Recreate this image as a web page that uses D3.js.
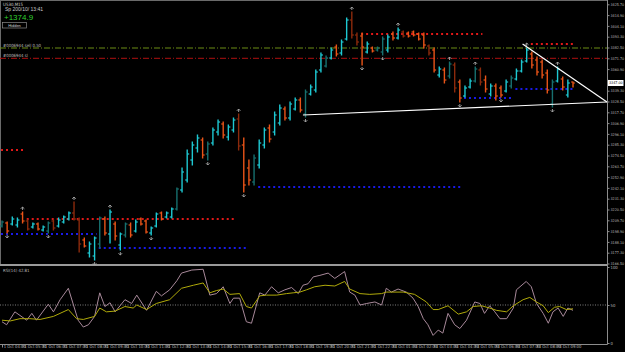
<!DOCTYPE html>
<html>
<head>
<meta charset="utf-8">
<script src="https://cdn.jsdelivr.net/npm/d3@7"></script>
<style>
  body { margin: 0; background: #000; }
  svg { display: block; font-family: "Liberation Sans", Arial, sans-serif; }
</style>
</head>
<body>
<div id="chart"></div>
<script>
// bars: [open, high, low, close, colour code]
const bars = [
  [3204,3209,3203,3208,'t'],[3207,3208,3197,3199,'o'],[3206,3213,3205,3211,'c'],[3205,3212,3203,3210,'c'],
  [3216,3218,3207,3209,'o'],[3209,3210,3200,3201,'r'],[3203,3207,3202,3206,'c'],[3206,3207,3200,3201,'o'],
  [3200,3204,3199,3203,'c'],[3199,3208,3197,3207,'t'],[3209,3210,3200,3202,'r'],[3204,3212,3203,3210,'c'],
  [3208,3214,3207,3213,'c'],[3211,3218,3210,3217,'c'],[3217,3228,3210,3211,'r'],[3210,3212,3178,3186,'r'],
  [3190,3192,3183,3184,'o'],[3177,3188,3173,3186,'c'],[3174,3193,3170,3192,'c'],[3186,3213,3182,3212,'t'],
  [3211,3213,3195,3197,'o'],[3196,3220,3187,3218,'c'],[3206,3208,3190,3194,'o'],[3185,3197,3180,3196,'c'],
  [3195,3207,3193,3206,'t'],[3205,3207,3193,3195,'o'],[3199,3210,3198,3208,'c'],[3211,3212,3205,3206,'o'],
  [3209,3210,3197,3198,'o'],[3197,3203,3195,3202,'c'],[3204,3217,3203,3216,'c'],[3217,3218,3210,3211,'o'],
  [3213,3218,3212,3217,'c'],[3213,3222,3212,3221,'c'],[3221,3242,3220,3241,'t'],[3240,3262,3238,3258,'c'],
  [3250,3280,3248,3276,'c'],[3270,3288,3265,3285,'c'],[3282,3295,3278,3292,'c'],[3290,3292,3272,3275,'o'],
  [3276,3288,3270,3286,'t'],[3287,3302,3285,3300,'c'],[3298,3310,3295,3308,'c'],[3306,3308,3292,3295,'o'],
  [3293,3305,3290,3303,'c'],[3300,3312,3298,3310,'c'],[3311,3316,3280,3284,'r'],[3285,3292,3238,3245,'o'],
  [3262,3270,3245,3250,'o'],[3248,3275,3245,3272,'t'],[3265,3290,3262,3287,'c'],[3285,3302,3282,3300,'c'],
  [3302,3305,3288,3291,'o'],[3298,3318,3295,3315,'c'],[3307,3325,3305,3322,'c'],[3321,3323,3310,3312,'o'],
  [3312,3328,3310,3326,'c'],[3321,3332,3320,3330,'c'],[3330,3332,3318,3320,'o'],[3316,3340,3313,3338,'t'],
  [3336,3345,3335,3343,'c'],[3340,3360,3338,3358,'c'],[3360,3377,3358,3375,'c'],[3364,3374,3363,3372,'t'],
  [3372,3382,3371,3380,'c'],[3383,3385,3374,3376,'o'],[3377,3390,3375,3388,'c'],[3391,3412,3390,3410,'c'],
  [3410,3418,3392,3395,'r'],[3395,3397,3385,3388,'r'],[3394,3397,3365,3383,'o'],[3378,3388,3377,3386,'c'],
  [3382,3383,3378,3379,'o'],[3380,3383,3379,3382,'t'],[3378,3393,3375,3391,'t'],[3380,3395,3378,3393,'c'],
  [3396,3398,3390,3392,'o'],[3392,3402,3391,3400,'c'],[3398,3399,3393,3394,'r'],[3397,3398,3393,3394,'o'],
  [3398,3399,3394,3395,'o'],[3396,3397,3390,3391,'o'],[3395,3397,3382,3385,'o'],[3384,3385,3375,3377,'r'],
  [3380,3382,3358,3360,'o'],[3355,3363,3353,3361,'c'],[3360,3362,3347,3350,'o'],[3354,3368,3352,3366,'t'],
  [3365,3367,3338,3342,'r'],[3348,3350,3328,3332,'o'],[3334,3344,3333,3342,'c'],[3343,3351,3342,3349,'c'],
  [3349,3363,3348,3361,'t'],[3360,3362,3345,3348,'r'],[3350,3354,3338,3341,'o'],[3336,3346,3334,3344,'c'],
  [3344,3346,3330,3334,'o'],[3342,3344,3333,3335,'o'],[3339,3350,3338,3348,'c'],[3344,3354,3342,3352,'t'],
  [3351,3361,3350,3359,'c'],[3359,3370,3358,3368,'c'],[3369,3382,3368,3380,'c'],[3376,3378,3362,3365,'o'],
  [3370,3373,3355,3358,'o'],[3368,3370,3352,3355,'o'],[3357,3360,3337,3340,'o'],[3326,3350,3323,3348,'t'],
  [3349,3363,3348,3361,'c'],[3351,3353,3340,3343,'o'],[3335,3350,3333,3347,'c'],[3348,3348,3343,3347,'o']
];

// fractal arrows (bar indices)
const fractalUp = [4, 14, 21, 46, 68, 77, 87, 92, 102, 108];
const fractalDown = [1, 9, 18, 23, 29, 40, 47, 59, 70, 74, 89, 97, 107];

// dotted support / resistance: [price, fromBar, toBar, kind]
const levels = [
  [3280, 0, 4, 'r'], [3211, 5, 45, 'r'], [3396, 70, 93, 'r'], [3386, 103, 111, 'r'],
  [3196, 0, 18, 'b'], [3182, 19, 47, 'b'], [3243, 50, 89, 'b'], [3332, 90, 99, 'b'], [3341, 100, 111, 'b']
];

// trend lines: [[bar, price], [bar, price]]
const trendLines = [
  [[58.5, 3315], [117.6, 3328]],
  [[101.2, 3386], [117.6, 3328]]
];

// order lines
const orderLines = [
  { label: '#0006944 sell 0.50', price: 3382, color: '#6b8c14' },
  { label: '#0006944 sl', price: 3371.7, color: '#b01010' }
];

// oscillator: [bar position, value]
const oscFast = [
  [0,28],[0.9,24],[2.5,41],[4.8,30],[5.8,39],[6.7,30],[9,51],[10,41],[11.3,57],[12.9,72],[14.8,30],
  [15.8,21],[16.8,24],[18,35],[19,66],[20,48],[21,53],[22,41],[23.9,57],[25.2,52],[26.2,63],[28.1,43],
  [30,68],[31,62],[32.6,70],[34,82],[34.9,92],[36.9,96],[39.1,97],[40.4,63],[41.7,65],[43,74],[44.3,52],
  [45,59],[46.2,59],[47.5,28],[48.5,26],[50.1,66],[51.1,63],[52.4,74],[53.7,66],[55,70],[56.3,73],
  [57.6,65],[58.5,76],[59.5,78],[60.5,87],[61.8,89],[63.4,92],[64.7,85],[66.6,94],[67.6,67],[68.6,63],
  [69.6,50],[70.9,52],[72.5,54],[73.8,50],[74.7,72],[75.7,67],[77,71],[78.6,67],[79.9,59],[80.9,48],
  [81.9,32],[82.8,24],[83.8,10],[84.8,17],[85.7,13],[86.7,39],[88,24],[89,19],[90.3,30],[91.9,54],
  [92.9,52],[93.8,39],[94.8,49],[95.8,41],[96.8,32],[98.1,32],[99.4,46],[100,70],[101.9,81],[102.9,74],
  [103.9,52],[105.2,39],[106.2,26],[107.1,41],[108.1,46],[109.1,35],[110,46],[111,43]
];
const oscSlow = [
  [0,30],[1.6,29],[3.5,32],[5.4,32],[7.4,31],[10,35],[12.9,44],[14.5,32],[15.8,31],[18,35],[19,46],
  [20.3,41],[22,42],[23.9,48],[25.5,46],[26.2,50],[28.1,44],[30,52],[32.6,57],[34.9,72],[37.2,76],
  [39.1,79],[40.4,66],[41.7,69],[43,71],[44.3,64],[46.2,65],[47.5,48],[48.5,46],[50.1,62],[51.4,63],
  [53.4,63],[55.3,65],[56.6,66],[57.9,67],[59.2,70],[60.8,74],[62.8,76],[64.7,75],[66.6,81],[67.6,71],
  [69.6,65],[71.5,64],[73.8,65],[74.7,67],[76,67],[78,67],[80.2,64],[82.5,54],[83.8,44],[84.8,44],
  [86.7,49],[88.7,38],[90.3,41],[91.6,48],[93.2,49],[94.8,46],[96.1,43],[98.1,41],[99.4,49],[101.3,57],
  [102.6,60],[103.9,54],[105.2,49],[106.2,40],[107.4,47],[108.4,48],[109.7,44],[111,45]
];

const priceTicks = [3425.7, 3414.9, 3404.1, 3393.3, 3382.5, 3371.7, 3360.9, 3350.1, 3339.3, 3328.5,
  3317.7, 3306.9, 3296.1, 3285.3, 3274.5, 3263.7, 3252.9, 3242.1, 3231.3, 3220.5, 3209.7, 3198.9,
  3188.1, 3177.3, 3166.5];
const oscTicks = [100, 50, 0];
const timeLabels = ['1 Oct 04:00','1 Oct 05:00','1 Oct 06:00','1 Oct 07:00','1 Oct 08:00','1 Oct 09:00',
  '1 Oct 10:00','1 Oct 11:00','1 Oct 12:00','1 Oct 13:00','1 Oct 14:00','1 Oct 15:00','1 Oct 16:00',
  '1 Oct 17:00','1 Oct 18:00','1 Oct 19:00','1 Oct 20:00','1 Oct 21:00','1 Oct 22:00','4 Oct 01:00',
  '4 Oct 02:00','4 Oct 03:00','4 Oct 04:00','4 Oct 05:00','4 Oct 06:00','4 Oct 07:00','4 Oct 08:00',
  '4 Oct 09:00'];

const width = 625, height = 352;
const axisX = 607.5, mainBottom = 264, oscTop = 267, oscBottom = 343, bottomLine = 344.5;
const colors = { c: '#1ec8d2', t: '#17706f', o: '#ea5418', r: '#8c2a0c' };
const axisColor = '#8c8c8c', textColor = '#bcbcbc';
const smallFont = '"Liberation Sans Narrow", "DejaVu Sans Condensed", Arial, sans-serif';

const svg = d3.select('#chart').append('svg').attr('width', width).attr('height', height)
  .style('background', '#000');

const x = d3.scaleLinear().domain([0, bars.length - 1]).range([2, 573]);
const y = d3.scaleLinear().domain([3430 - 263.3, 3430]).range([263.3, 0]);
const yOsc = d3.scaleLinear().domain([0, 100]).range([oscBottom, oscTop]);

// frame lines
svg.append('line').attr('x1', 0).attr('x2', axisX).attr('y1', 0.5).attr('y2', 0.5).attr('stroke', '#6a6a6a');
svg.append('line').attr('x1', 0.5).attr('x2', 0.5).attr('y1', 0).attr('y2', mainBottom).attr('stroke', '#6a6a6a');
svg.append('rect').attr('x', 0).attr('y', mainBottom).attr('width', axisX).attr('height', 2).attr('fill', '#9a9a9a');
svg.append('line').attr('x1', 0).attr('x2', axisX).attr('y1', bottomLine).attr('y2', bottomLine).attr('stroke', axisColor);

const main = svg.append('g');

// order lines
orderLines.forEach(o => {
  main.append('line').attr('x1', 0).attr('x2', axisX).attr('y1', y(o.price)).attr('y2', y(o.price))
    .attr('stroke', o.color).attr('stroke-width', 1).attr('stroke-dasharray', '6,2,1,2');
  main.append('text').attr('x', 3).attr('y', y(o.price) - 1.5).text(o.label)
    .attr('fill', '#bdbdbd').attr('font-size', 4.3).attr('font-family', smallFont);
});

// dotted levels
main.selectAll('line.level').data(levels).enter().append('line')
  .classed('level', true)
  .attr('x1', d => x(d[1]) - 1).attr('x2', d => x(d[2]) + 2)
  .attr('y1', d => y(d[0])).attr('y2', d => y(d[0]))
  .attr('stroke', d => d[3] === 'r' ? '#e01818' : '#1a1ae6')
  .attr('stroke-width', 2).attr('stroke-dasharray', '2,3');

// OHLC bars
const barG = main.selectAll('g.bar').data(bars).enter().append('g').classed('bar', true)
  .attr('stroke', d => colors[d[4]]).attr('stroke-width', 1.4);
barG.append('line').attr('x1', (d, i) => x(i)).attr('x2', (d, i) => x(i))
  .attr('y1', d => y(d[1]) - 0.5).attr('y2', d => y(d[2]) + 0.5);
barG.append('line').attr('x1', (d, i) => x(i) - 2).attr('x2', (d, i) => x(i))
  .attr('y1', d => y(d[0])).attr('y2', d => y(d[0])).attr('stroke-width', 1.2);
barG.append('line').attr('x1', (d, i) => x(i)).attr('x2', (d, i) => x(i) + 2)
  .attr('y1', d => y(d[3])).attr('y2', d => y(d[3])).attr('stroke-width', 1.2);

// fractals
const arrow = (cx, cy, up) => {
  const s = up ? 1 : -1;
  return `M${cx - 1.8},${cy + 1.8 * s}L${cx},${cy}L${cx + 1.8},${cy + 1.8 * s}M${cx},${cy}L${cx},${cy + 3 * s}`;
};
main.selectAll('path.fup').data(fractalUp).enter().append('path')
  .attr('d', i => arrow(x(i), y(bars[i][1]) - 5, true))
  .attr('stroke', '#a8a8a8').attr('fill', 'none').attr('stroke-width', 0.9);
main.selectAll('path.fdn').data(fractalDown).enter().append('path')
  .attr('d', i => arrow(x(i), y(bars[i][2]) + 5, false))
  .attr('stroke', '#a8a8a8').attr('fill', 'none').attr('stroke-width', 0.9);

// trend lines
main.selectAll('line.trend').data(trendLines).enter().append('line')
  .attr('x1', d => x(d[0][0])).attr('y1', d => y(d[0][1]))
  .attr('x2', d => x(d[1][0])).attr('y2', d => y(d[1][1]))
  .attr('stroke', '#ffffff').attr('stroke-width', 1.2);

// price axis
const priceAxis = d3.axisRight(y).tickValues(priceTicks).tickSize(2).tickPadding(1)
  .tickFormat(d3.format('.2f'));
const pa = svg.append('g').attr('transform', `translate(${axisX},0)`).call(priceAxis);

// oscillator
const line = d3.line().x(d => x(d[0])).y(d => yOsc(d[1]));
svg.append('line').attr('x1', 0).attr('x2', axisX).attr('y1', yOsc(50)).attr('y2', yOsc(50))
  .attr('stroke', '#a0a0a0').attr('stroke-dasharray', '1,1.5').attr('stroke-width', 0.8);
svg.append('path').datum(oscFast).attr('d', line).attr('fill', 'none')
  .attr('stroke', '#a8899a').attr('stroke-width', 1);
svg.append('path').datum(oscSlow).attr('d', line).attr('fill', 'none')
  .attr('stroke', '#b0aa0a').attr('stroke-width', 1);
svg.append('text').attr('x', 3).attr('y', 272).text('RSI(14) 42.81').attr('fill', '#bdbdbd')
  .attr('font-size', 4.3).attr('font-family', smallFont);

const oscAxis = d3.axisRight(yOsc).tickValues(oscTicks).tickSize(2).tickPadding(1);
const oa = svg.append('g').attr('transform', `translate(${axisX},0)`).call(oscAxis);

// time axis
const timeIdx = timeLabels.map((t, i) => i * 4);
const timeAxis = d3.axisBottom(x).tickValues(timeIdx).tickSize(3).tickPadding(0)
  .tickFormat((d, i) => timeLabels[i]);
const ta = svg.append('g').attr('transform', `translate(0,${bottomLine})`).call(timeAxis);
ta.select('.domain').remove();
ta.selectAll('text').attr('text-anchor', 'start').attr('dx', 1.2).attr('dy', 0.5);

[pa, oa, ta].forEach(g => {
  g.selectAll('.domain').attr('stroke', axisColor);
  g.selectAll('.tick line').attr('stroke', axisColor);
  g.selectAll('text').attr('fill', textColor).attr('font-size', 4.2)
    .attr('font-family', smallFont);
});
pa.selectAll('text').attr('font-size', 3.7);
pa.select('.domain').attr('d', `M0,0V${bottomLine}`);
oa.select('.domain').remove();
// the live price box covers the tick label beside it
const last = bars[bars.length - 1][3];
pa.selectAll('.tick').filter(d => Math.abs(y(d) - y(last)) < 4.5).select('text').remove();

// current price box
svg.append('rect').attr('x', axisX + 0.5).attr('y', y(last) - 3).attr('width', 15.5).attr('height', 6).attr('fill', '#ffffff');
svg.append('text').attr('x', axisX + 1.5).attr('y', y(last) + 1.4).text(d3.format('.2f')(last))
  .attr('fill', '#000').attr('font-size', 3.7).attr('font-family', smallFont);

// header texts
svg.append('text').attr('x', 3).attr('y', 6).text('US30,M15').attr('fill', '#c8c8c8')
  .attr('font-size', 4.4).attr('font-family', smallFont);
svg.append('text').attr('x', 5).attr('y', 11).text('Sp  200/10/  13:41').attr('fill', '#c8c8c8').attr('font-size', 5);
svg.append('text').attr('x', 4).attr('y', 19.5).text('+1374.9').attr('fill', '#2fd22f').attr('font-size', 8);
svg.append('rect').attr('x', 2.5).attr('y', 22.5).attr('width', 24).attr('height', 5.5)
  .attr('fill', '#000').attr('stroke', '#8a8a8a').attr('stroke-width', 0.7);
svg.append('text').attr('x', 14.5).attr('y', 26.6).text('Hidden').attr('text-anchor', 'middle')
  .attr('fill', '#d0d0d0').attr('font-size', 4);
</script>
</body>
</html>
